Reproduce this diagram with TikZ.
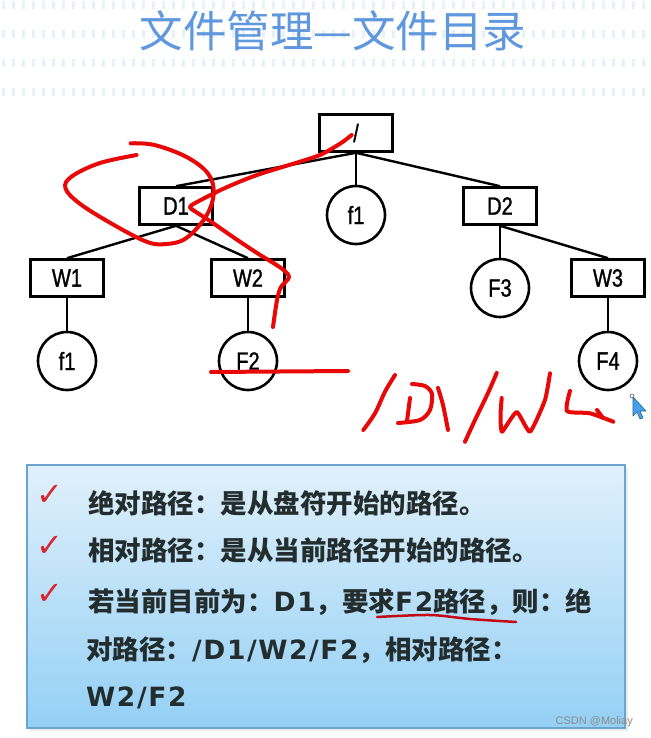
\documentclass[tikz,border=0pt]{standalone}
\usepackage{fontspec}
\usepackage{xcolor}
\usepackage{tikz}
\usetikzlibrary{positioning}
\newfontfamily\cjk{Noto Sans CJK SC}
\newfontfamily\treefont[FakeStretch=0.8,FakeBold=1.2]{Liberation Sans}
\newfontfamily\latinb[LetterSpace=6]{DejaVu Sans}
\newfontfamily\symfont{DejaVu Sans}
\newfontfamily\markfont{Liberation Sans}
\newcommand{\latpart}[1]{{\latinb\bfseries #1}}
\definecolor{titleblue}{RGB}{95,152,222}
\definecolor{tickblue}{RGB}{232,241,250}
\definecolor{inkred}{RGB}{232,8,8}
\definecolor{underred}{RGB}{195,10,20}
\definecolor{checkred}{RGB}{215,40,50}
\definecolor{paneltop}{RGB}{224,240,251}
\definecolor{panelbottom}{RGB}{148,208,245}
\definecolor{panelline}{RGB}{105,165,205}
\definecolor{bodytext}{RGB}{35,45,45}
\definecolor{cursorblue}{RGB}{70,160,235}

\begin{document}
\begin{tikzpicture}[
    x=1pt, y=-1pt,
    dirbox/.style={rectangle, draw, line width=2.6pt, minimum width=73pt, minimum height=37pt, inner sep=0pt, font=\treefont\fontsize{25}{28}\selectfont},
    filecirc/.style={circle, draw, line width=2.6pt, minimum size=58pt, inner sep=0pt, font=\treefont\fontsize{25}{28}\selectfont},
    link/.style={line width=2.4pt},
    ink/.style={draw=inkred, line width=4pt, line cap=round, line join=round},
    bodyline/.style={anchor=west, inner sep=0pt, text=bodytext, font=\cjk\bfseries\fontsize{26.5}{30}\selectfont},
    tick/.style={inner sep=0pt, text=checkred, font=\symfont\bfseries\fontsize{32}{34}\selectfont}
]
    \fill[white] (0,0) rectangle (650,738);
    \useasboundingbox (0,0) rectangle (650,738);

    % Background rows
    \foreach \r in {5,34,63,92}
        \draw[tickblue, line width=8pt, dash pattern=on 3pt off 7pt] (2,\r) -- (650,\r);

    % Title
    \node[text=titleblue, font=\cjk\fontsize{43.5}{48}\selectfont] (title) at (333,31) {文件管理—文件目录};

    % Tree nodes
    \node[dirbox] (root) at (356,133) {/};
    \node[dirbox] (d1) at (176,206) {D1};
    \node[filecirc] (fmid) at (356,215) {f1};
    \node[dirbox] (d2) at (500,206) {D2};
    \node[dirbox] (w1) at (67,278) {W1};
    \node[dirbox] (w2) at (248,278) {W2};
    \node[filecirc] (f3) at (500,288) {F3};
    \node[dirbox] (w3) at (608,278) {W3};
    \node[filecirc] (fleft) at (67,361) {f1};
    \node[filecirc] (f2) at (248,361) {F2};
    \node[filecirc] (f4) at (608,361) {F4};

    % Connectors
    \draw[link] (root.south) -- (d1.north);
    \draw[link] (root.south) -- (fmid.north);
    \draw[link] (root.south) -- (d2.north);
    \draw[link] (d1.south) -- (w1.north);
    \draw[link] (d1.south) -- (w2.north);
    \draw[link] (w1.south) -- (fleft.north);
    \draw[link] (w2.south) -- (f2.north);
    \draw[link] (d2.south) -- (f3.north);
    \draw[link] (d2.south) -- (w3.north);
    \draw[link] (w3.south) -- (f4.north);

    % Red pen marks
    \draw[ink] plot[smooth, tension=0.6] coordinates {(130.7,143.3) (154.4,145) (186,156.7) (207.8,173.3) (213.7,193.3) (205.8,216.7) (186,238.3) (166.3,244) (146.5,241.7) (111,223.3) (79.3,203.3) (65.5,188.3) (71.4,176.7) (99,163.3) (136.6,155)};
    \draw[ink] plot[smooth, tension=0.5] coordinates {(351.7,135) (343,141.7) (333,148) (320,155) (300,161.7) (257,175) (225,188) (198,201.5) (190,207) (196,212) (210,221) (233,237) (257,253) (281,268) (289,277) (281,287) (277,300) (273,327)};
    \draw[ink] (211,372) -- (348,371);
    \draw[ink] plot[smooth] coordinates {(363.3,430) (375,413.3) (385,391.7) (395,375)};
    \draw[ink] (410,398) -- (407,421);
    \draw[ink] plot[smooth] coordinates {(412,384) (425,386) (432,394) (430,410) (420,420) (398,423)};
    \draw[ink] plot[smooth] coordinates {(438,388) (443,405) (448,430)};
    \draw[ink] plot[smooth] coordinates {(496.7,373) (488,393) (475,420) (465,441.7)};
    \draw[ink] plot[smooth, tension=0.3] coordinates {(501.7,398) (500.5,415) (502,431.7) (516.7,412) (530,431.7) (545,400) (550,373.3)};
    \draw[ink] plot[smooth, tension=0.4] coordinates {(570,391) (567,411) (590,413.3) (613.3,421.7)};
    \draw[ink] (597,410) -- (603,418);

    % Cursor
    \draw[gray, line width=0.8pt] (632,396) circle (2pt);
    \draw[cursorblue!60!black, fill=cursorblue, line width=0.6pt, line join=round]
        (633,397) -- (633,416) -- (637,412) -- (640,419) -- (643,418) -- (640,411) -- (646,411) -- cycle;

    % Text panel
    \fill[black!8] (30,468) rectangle (628,731);
    \node[draw=panelline, line width=1.2pt, top color=paneltop, bottom color=panelbottom, minimum width=598pt, minimum height=263pt, inner sep=0pt] (panel) at (326,596.5) {};

    \node[tick] (c1) at (50,495) {✓};
    \node[tick] (c2) at (50,546) {✓};
    \node[tick] (c3) at (50,594) {✓};
    \node[bodyline] (l1) at (88,503) {绝对路径：是从盘符开始的路径。};
    \node[bodyline] (l2) at (88,550) {相对路径：是从当前路径开始的路径。};
    \node[bodyline] (l3) at (88,602) {若当前目前为：\latpart{D1}，要求\latpart{F2}路径，则：绝};
    \node[bodyline] (l4) at (86,650) {对路径：\latpart{/D1/W2/F2}，相对路径：};
    \node[bodyline] (l5) at (86,698) {\latpart{W2/F2}};
    \draw[ink, draw=underred, line width=2.5pt] plot[smooth] coordinates {(377,617) (430,615) (470,619) (516,622)};

    % Watermark
    \node[anchor=east, inner sep=0pt, text=black!45, font=\markfont\fontsize{11}{12}\selectfont] (mark) at (633,722) {CSDN @Moliay};
\end{tikzpicture}
\end{document}
